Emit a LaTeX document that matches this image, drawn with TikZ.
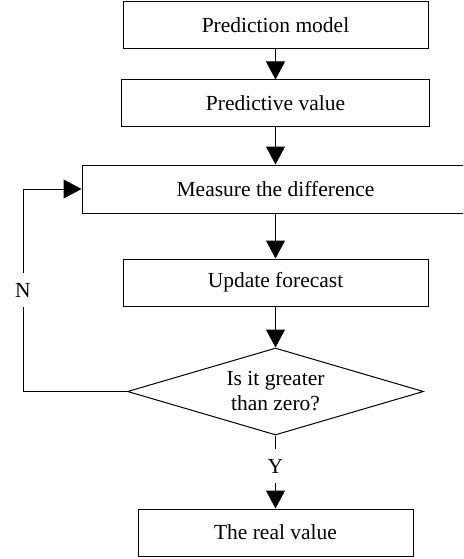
\documentclass[tikz,border=0pt]{standalone}
\usepackage{fontspec}
\setmainfont{Liberation Serif}
\usetikzlibrary{arrows.meta,shapes.geometric}
\tikzset{
  box/.style={draw, line width=1pt, rectangle, inner sep=0pt, minimum height=47pt},
  dec/.style={draw, line width=1pt, diamond, aspect=3.4, inner sep=0pt, minimum width=296pt, minimum height=87pt, align=center},
  flow/.style={line width=1pt, -{Triangle[length=18pt,width=19pt]}},
  lbl/.style={fill=white, inner sep=0pt, minimum height=34pt, minimum width=14pt}
}
\begin{document}
\begin{tikzpicture}[x=1pt,y=-1pt, font=\fontsize{21.5}{25}\selectfont]
\clip (0,0) rectangle (463,559);
\node[box, minimum width=305pt] (b1) at (275.5,25.5) {Prediction model};
\node[box, minimum width=308pt] (b2) at (275.5,103.5) {Predictive value};
\node[box, minimum width=387pt, minimum height=48pt] (b3) at (275.5,189) {Measure the difference};
\node[box, minimum width=305pt] (b4) at (275.5,282.5) {Update forecast};
\node[dec] (d) at (275.5,391.5) {Is it greater\\than zero?};
\node[box, minimum width=275pt] (b5) at (275.5,532.5) {The real value};
\coordinate (c1) at (23,391.5);
\coordinate (c2) at (23,189);
\draw[flow] (b1) -- (b2);
\draw[flow] (b2) -- (b3);
\draw[flow] (b3) -- (b4);
\draw[flow] (b4) -- (d);
\draw[flow] (d) -- node[lbl, pos=0.42] (y) {Y} (b5);
\draw[flow] (d.west) -- (c1) -- node[lbl, pos=0.5] (n) {N} (c2) -- (b3.west);
\end{tikzpicture}
\end{document}
